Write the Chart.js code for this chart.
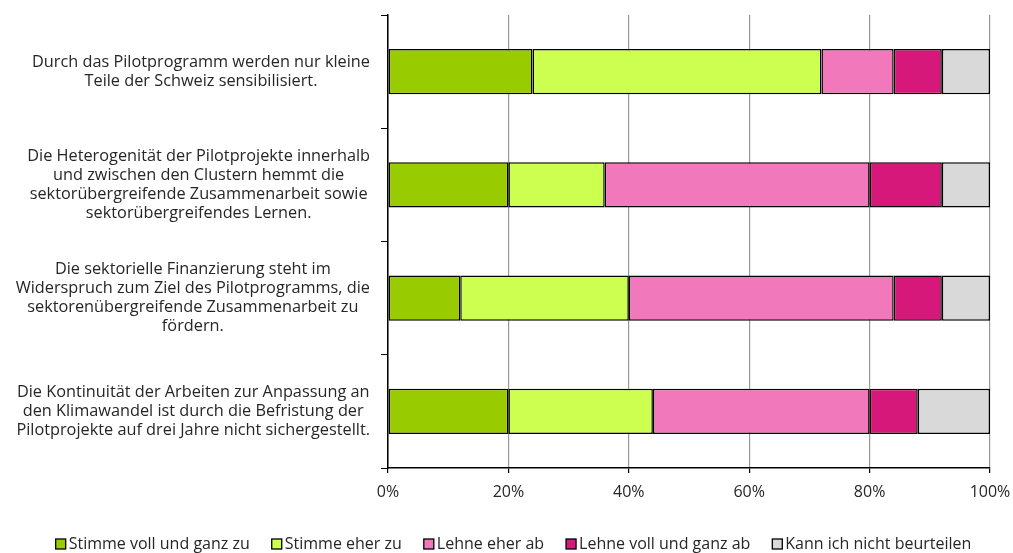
<!DOCTYPE html>
<html><head><meta charset="utf-8">
<script src="https://cdn.jsdelivr.net/npm/chart.js@4/dist/chart.umd.min.js"></script>
<style>html,body{margin:0;padding:0;background:#fff;}#wrap{width:1013px;height:553px;}</style>
</head><body><div id="wrap"><canvas id="c" width="1013" height="553"></canvas></div>
<script>
const categories = [
  ["Durch das Pilotprogramm werden nur kleine", "Teile der Schweiz sensibilisiert."],
  ["Die Heterogenität der Pilotprojekte innerhalb", "und zwischen den Clustern hemmt die", "sektorübergreifende Zusammenarbeit sowie", "sektorübergreifendes Lernen."],
  ["Die sektorielle Finanzierung steht im", "Widerspruch zum Ziel des Pilotprogramms, die", "sektorenübergreifende Zusammenarbeit zu", "fördern."],
  ["Die Kontinuität der Arbeiten zur Anpassung an", "den Klimawandel ist durch die Befristung der", "Pilotprojekte auf drei Jahre nicht sichergestellt."]
];
const seriesNames = ["Stimme voll und ganz zu", "Stimme eher zu", "Lehne eher ab", "Lehne voll und ganz ab", "Kann ich nicht beurteilen"];
const stimmeVoll = [24, 20, 12, 20];
const stimmeEher = [48, 16, 28, 24];
const lehneEher = [12, 44, 44, 36];
const lehneVoll = [8, 12, 8, 8];
const kannNicht = [8, 8, 8, 12];
const colors = ["#99CC00", "#CCFF4F", "#F078BB", "#D6187B", "#D9D9D9"];
const xTicks = [0, 20, 40, 60, 80, 100];

const values = [stimmeVoll, stimmeEher, lehneEher, lehneVoll, kannNicht];
const FONT = "'Open Sans', Lato, sans-serif";
const TXT = '#262626';

const labelPlugin = {
  id: 'customLabels',
  afterDraw(chart) {
    const ctx = chart.ctx;
    const y = chart.scales.y;
    ctx.save();
    ctx.fillStyle = TXT;
    ctx.font = "16.3px " + FONT;
    ctx.textAlign = 'center';
    ctx.textBaseline = 'middle';
    const right = y.right - 18;
    const lh = 19;
    chart.data.labels.forEach((lines, i) => {
      const cy = y.getPixelForValue(i);
      const maxW = Math.max(...lines.map(l => ctx.measureText(l).width));
      const cx = right - maxW / 2;
      lines.forEach((l, j) => {
        ctx.fillText(l, cx, cy + (j - (lines.length - 1) / 2) * lh);
      });
    });
    // legend
    ctx.font = "16px " + FONT;
    ctx.textAlign = 'left';
    const box = 10, gapBox = 3, gapItem = 22;
    const widths = chart.data.datasets.map(d => box + gapBox + ctx.measureText(d.label).width);
    const total = widths.reduce((a, b) => a + b, 0) + gapItem * (widths.length - 1);
    let x = (chart.width - total) / 2 + 7;
    const ly = 544;
    chart.data.datasets.forEach((d, i) => {
      ctx.fillStyle = d.backgroundColor;
      ctx.fillRect(x, ly - box / 2, box, box);
      ctx.strokeStyle = '#000';
      ctx.lineWidth = 1.3;
      ctx.strokeRect(x, ly - box / 2, box, box);
      ctx.fillStyle = TXT;
      ctx.fillText(d.label, x + box + gapBox, ly);
      x += widths[i] + gapItem;
    });
    ctx.restore();
  }
};

new Chart(document.getElementById('c'), {
  type: 'bar',
  data: {
    labels: categories,
    datasets: values.map((v, i) => ({
      label: seriesNames[i], data: v, backgroundColor: colors[i],
      borderColor: '#000', borderWidth: 1.5, borderSkipped: false,
      barPercentage: 0.4, categoryPercentage: 1
    }))
  },
  plugins: [labelPlugin],
  options: {
    indexAxis: 'y', responsive: false, animation: false,
    layout: { padding: { top: 15, right: 23, left: 0, bottom: 0 } },
    plugins: {
      tooltip: { enabled: false },
      legend: { display: false }
    },
    scales: {
      x: {
        stacked: true, min: 0, max: 100,
        afterBuildTicks: s => { s.ticks = xTicks.map(v => ({ value: v })); },
        ticks: { callback: v => v + '%', color: TXT, font: { family: FONT, size: 16 }, padding: 10, maxRotation: 0 },
        grid: { color: '#999', lineWidth: 1.2, tickColor: '#000', tickLength: 5, drawTicks: true },
        border: { color: '#000', width: 1.5 },
        afterFit: s => { s.height = 85; s.paddingLeft = 0; s.paddingRight = 0; }
      },
      y: {
        stacked: true,
        ticks: { display: false },
        grid: { drawOnChartArea: false, drawTicks: true, tickLength: 7, tickColor: '#000', offset: true },
        border: { color: '#000', width: 1.5 },
        afterFit: s => { s.width = 388; s.paddingTop = 0; s.paddingBottom = 0; }
      }
    }
  }
});
</script></body></html>
